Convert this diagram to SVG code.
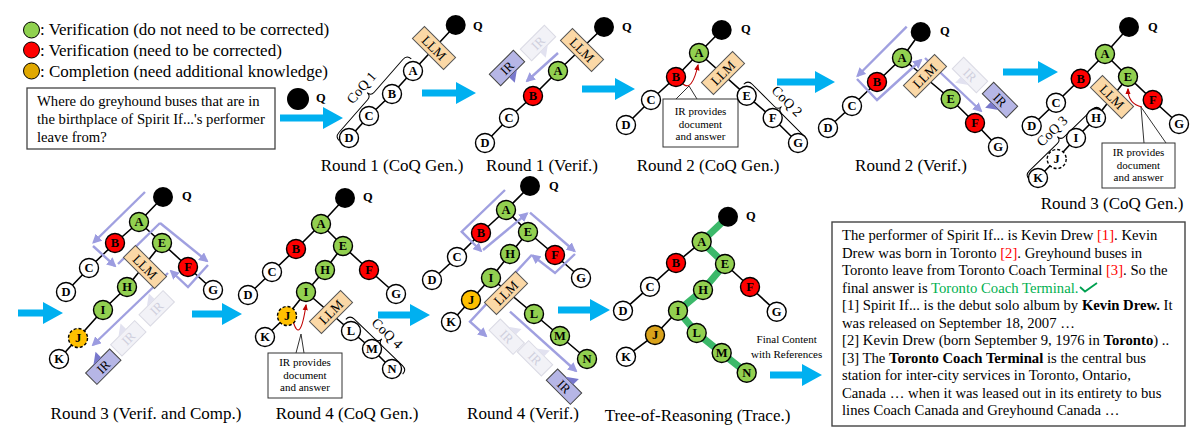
<svg xmlns="http://www.w3.org/2000/svg" xmlns:xlink="http://www.w3.org/1999/xlink" width="1200" height="443" viewBox="0 0 1200 443">
<style>
.e{stroke:#000;stroke-width:1.6;fill:none}
.nd circle{stroke:#000;stroke-width:1.4}
.nd text{font-family:"Liberation Serif",serif;font-weight:bold;font-size:12.5px;text-anchor:middle;fill:#000}
.w{fill:#fff}.g{fill:#92D050}.r{fill:#FF0000}.o{fill:#FFC000}.o2{fill:#D9A21B}
.dsh{stroke-dasharray:3 2}
.q circle{fill:#000}
.q text{font-family:"Liberation Serif",serif;font-weight:bold;font-size:12.5px;fill:#000}
.lab{font-family:"Liberation Serif",serif;font-size:17px;text-anchor:middle;fill:#000}
.leg{font-family:"Liberation Serif",serif;font-size:17px;fill:#000}
.qt{font-family:"Liberation Serif",serif;font-size:14.7px;fill:#000}
.co{font-family:"Liberation Serif",serif;font-size:11px;text-anchor:middle;fill:#000}
.cob{fill:#fff;stroke:#333;stroke-width:1}
.tail{fill:none;stroke:#333;stroke-width:1}
.red{fill:none;stroke:#C00000;stroke-width:1.1}
.lav{fill:none;stroke:#A0A0E0;stroke-width:2.4}
.br{fill:none;stroke:#000;stroke-width:1}
.brt{font-family:"Liberation Serif",serif;font-size:14px;text-anchor:middle;fill:#000}
.ba{fill:#00B0F0}
.tb{font-family:"Liberation Serif",serif;font-size:14.7px;fill:#000}
</style>
<defs>
<marker id="la" viewBox="0 0 10 10" refX="8" refY="5" markerWidth="4" markerHeight="4" orient="auto"><path d="M0,0 L10,5 L0,10 z" fill="#9C9CE0"/></marker>
<marker id="ra" viewBox="0 0 10 10" refX="8" refY="5" markerWidth="6" markerHeight="6" orient="auto"><path d="M0,1 L10,5 L0,9 z" fill="#C00000"/></marker>
<g id="llm"><rect x="-22" y="-8.5" width="44" height="17" fill="#FBD8A6" stroke="#555" stroke-width="1"/><text x="0" y="4.6" font-family="Liberation Serif,serif" font-size="13.5" text-anchor="middle" fill="#000">LLM</text></g>
<g id="ir"><rect x="-17" y="-8" width="34" height="16" fill="#B6B6E6" stroke="#444" stroke-width="1"/><text x="0" y="4.5" font-family="Liberation Serif,serif" font-size="13" text-anchor="middle" fill="#000">IR</text></g>
<g id="irf"><rect x="-17" y="-8" width="34" height="16" fill="#F2F2F7" stroke="#DADAE4" stroke-width="1"/><text x="0" y="4.5" font-family="Liberation Serif,serif" font-size="13" text-anchor="middle" fill="#CFCFDD">IR</text></g>
<polygon id="tri" points="-6,-8 5,-8 5,-16" fill="#7878CC"/>
<polygon id="trif" points="-6,-8 5,-8 5,-16" fill="#E2E2F0"/>
</defs>
<rect width="1200" height="443" fill="#fff"/>

<g id="legend">
<circle cx="31.5" cy="30" r="8" fill="#8FD14F" stroke="#000" stroke-width="1"/>
<text class="leg" x="40" y="35">: Verification (do not need to be corrected)</text>
<circle cx="31.5" cy="50" r="8" fill="#FF0000" stroke="#000" stroke-width="1"/>
<text class="leg" x="40" y="55.5">: Verification (need to be corrected)</text>
<circle cx="31.5" cy="71" r="8" fill="#E0A800" stroke="#000" stroke-width="1"/>
<text class="leg" x="40" y="76.5">: Completion (need additional knowledge)</text>
</g>

<g id="question">
<rect x="27" y="88" width="248" height="61" fill="#fff" stroke="#444" stroke-width="1.3"/>
<text class="qt" x="37" y="106">Where do greyhound buses that are in</text>
<text class="qt" x="37" y="124">the birthplace of Spirit If...'s performer</text>
<text class="qt" x="37" y="142">leave from?</text>
</g>
<g id="q0" class="q"><circle cx="298" cy="99" r="11"/><text x="316" y="102">Q</text></g>

<g id="connectors">
<polygon class="ba" points="280,114.5 323,114.5 323,107 343,118 323,129 323,121.5 280,121.5"/>
<polygon class="ba" points="422,89.5 456,89.5 456,82 476,93 456,104 456,96.5 422,96.5"/>
<polygon class="ba" points="582,85.5 615,85.5 615,78 635,89 615,100 615,92.5 582,92.5"/>
<polygon class="ba" points="777,78.5 815,78.5 815,71 835,82 815,93 815,85.5 777,85.5"/>
<polygon class="ba" points="1003,68.5 1038,68.5 1038,61 1058,72 1038,83 1038,75.5 1003,75.5"/>
<polygon class="ba" points="18,309.5 43,309.5 43,302 63,313 43,324 43,316.5 18,316.5"/>
<polygon class="ba" points="192,310.5 222,310.5 222,303 242,314 222,325 222,317.5 192,317.5"/>
<polygon class="ba" points="378,311.5 410,311.5 410,304 430,315 410,326 410,318.5 378,318.5"/>
<polygon class="ba" points="558,306.5 590,306.5 590,299 610,310 590,321 590,313.5 558,313.5"/>
<polygon class="ba" points="770,371.5 802,371.5 802,364 822,375 802,386 802,378.5 770,378.5"/>
<path class="e" d="M455.7,25 L413,71 L392,94 L369,116 L349,138"/>
<path class="e" d="M604,27 L558,71 L533,96 L509,118 L485,143"/>
<path class="e" d="M721.7,30 L699,53 L676,77 L651,100 L626,125 M699,53 L746.7,95.7 L772.7,118 L798,143"/>
<path class="e" d="M920.7,32 L902,58 L877,82 L852,106 L828,128 M902,58 L950.7,99 L975,123 L998,147"/>
<path class="e" d="M1129,27 L1105,54 L1080.7,78.7 L1056,102.7 L1031.7,126 M1105,54 L1128,76.7 L1152.7,100 L1179,124 M1128,76.7 L1096,118 L1076,138 L1056.7,159 L1038,178"/>
<path class="e" d="M163,197 L139,222 L115,243 L89,268 L66,292 M139,222 L162,243 L188,267 L213,290 M162,243 L127,287 L103,310 L78,338 L59,359"/>
<path class="e" d="M345,198 L321,224 L296,249 L272,272 L248,295 M321,224 L343,246 L369,270 L396,294 M343,246 L325,270 L306,292 L287,316 L265,337 M306,292 L351,331 L372,349 L392,369"/>
<path class="e" d="M530,186 L506,210 L481,233 L457,257 L432,280 M506,210 L528,232 L555,255 L581,278 M528,232 L510,254 L491,278 L471,300 L451,322 M491,278 L534,314 L560,336 L587,359"/>
<path class="e" d="M728,216.7 L701.7,241.7 L676,263 L650,286.7 L623,310.7 M701.7,241.7 L725,264 L750,287 L776.7,311.7 M725,264 L703,290 L678,310.7 L655,335 L626,356.7 M678,310.7 L696.7,333 L721.7,353 L746.7,372.7"/>
<path d="M728,216.7 L701.7,241.7 L725,264 L703,290 L678,310.7 L696.7,333 L721.7,353 L746.7,372.7" fill="none" stroke="#3CB96A" stroke-width="7" stroke-linejoin="round"/>
<path class="lav" marker-end="url(#la)" d="M558,53 L527,81"/>
<path class="lav" marker-end="url(#la)" d="M906.7,26.7 L857.5,76"/>
<path class="lav" marker-end="url(#la)" d="M857,79 L877,100 L921,60"/>
<path class="lav" marker-end="url(#la)" d="M925,58 L981,111"/>
<path class="lav" marker-end="url(#la)" d="M145,192 L93.5,242.5"/>
<path class="lav" marker-end="url(#la)" d="M93,246 L115,266"/>
<path class="lav" d="M118,264 L160,223"/>
<path class="lav" marker-end="url(#la)" d="M160,223 L207,261"/>
<path class="lav" marker-end="url(#la)" d="M208,265 L188,287 L171,271"/>
<path class="lav" marker-end="url(#la)" d="M168,273 L93,345"/>
<path class="lav" marker-end="url(#la)" d="M505,190 L461.7,231.7 L481,251"/>
<path class="lav" marker-end="url(#la)" d="M483,250 L527,213.5"/>
<path class="lav" marker-end="url(#la)" d="M530,212.7 L574.5,251"/>
<path class="lav" marker-end="url(#la)" d="M575,254 L555,273 L532.5,255.5"/>
<path class="lav" marker-end="url(#la)" d="M531.7,255 L470,321.7 L486,336"/>
<path class="lav" marker-end="url(#la)" d="M510,311.7 L576,371"/>
<path class="tail" d="M676,99 L689,86 L697,99"/>
<path class="red" marker-end="url(#ra)" d="M683,84 Q692,92 698,65"/>
<path class="tail" d="M1144,143 L1141,107 L1166,143"/>
<path class="red" marker-end="url(#ra)" d="M1142,107 Q1128,104 1128,89"/>
<path class="tail" d="M296,353 L301,334 L304,353"/>
<path class="red" marker-end="url(#ra)" d="M293,321 Q300,345 306,305"/>
</g>

<g id="r1g-llm"><use href="#llm" transform="translate(434,48) rotate(45)"/></g>
<g id="r1v-llm"><use href="#llm" transform="translate(582,50) rotate(45)"/></g>
<g id="r2g-llm"><use href="#llm" transform="translate(723,73) rotate(-45)"/></g>
<g id="r2v-llm"><use href="#llm" transform="translate(925,76) rotate(-45)"/></g>
<g id="r3g-llm"><use href="#llm" transform="translate(1112,97) rotate(45)"/></g>
<g id="r3v-llm"><use href="#llm" transform="translate(145,267) rotate(45)"/></g>
<g id="r4g-llm"><use href="#llm" transform="translate(331,312) rotate(-45)"/></g>
<g id="r4v-llm"><use href="#llm" transform="translate(506,293) rotate(-45)"/></g>

<g id="r1v-ir">
<use href="#irf" transform="translate(538,43) rotate(-45)"/><use href="#trif" transform="translate(538,43) rotate(135)"/>
<use href="#ir" transform="translate(507,68) rotate(-45)"/><use href="#tri" transform="translate(507,68) rotate(135)"/>
</g>
<g id="r2v-ir">
<use href="#irf" transform="translate(970,75) rotate(45)"/><use href="#trif" transform="translate(970,75) rotate(225)"/>
<use href="#ir" transform="translate(1000,100) rotate(45)"/><use href="#tri" transform="translate(1000,100) rotate(225)"/>
</g>
<g id="r3v-ir">
<use href="#irf" transform="translate(156.7,308.3) rotate(-45)"/><use href="#trif" transform="translate(156.7,308.3) rotate(-45)"/>
<use href="#irf" transform="translate(128.3,338.3) rotate(-45)"/><use href="#trif" transform="translate(128.3,338.3) rotate(-45)"/>
<use href="#ir" transform="translate(103.3,366.7) rotate(-45)"/><use href="#tri" transform="translate(103.3,366.7) rotate(-45)"/>
</g>
<g id="r4v-ir">
<use href="#irf" transform="translate(506.7,336.7) rotate(45)"/><use href="#trif" transform="translate(506.7,336.7) rotate(45)"/>
<use href="#irf" transform="translate(535,358.3) rotate(45)"/><use href="#trif" transform="translate(535,358.3) rotate(45)"/>
<use href="#ir" transform="translate(564,386.7) rotate(45)"/><use href="#tri" transform="translate(564,386.7) rotate(45)"/>
</g>

<g id="coq1"><g transform="translate(335,137) rotate(-48.8)"><path class="br" d="M0,6 Q0,0 6,0 L49.5,0 Q54.5,0 54.5,-5 Q54.5,0 59.5,0 L103,0 Q109,0 109,6"/><text class="brt" x="54.5" y="-8">CoQ 1</text></g></g>
<g id="coq2"><g transform="translate(748,80) rotate(45)"><path class="br" d="M0,6 Q0,0 6,0 L37.5,0 Q42.5,0 42.5,-5 Q42.5,0 47.5,0 L79,0 Q85,0 85,6"/><text class="brt" x="42.5" y="-8">CoQ 2</text></g></g>
<g id="coq3"><g transform="translate(1025,175) rotate(-44.2)"><path class="br" d="M0,6 Q0,0 6,0 L45,0 Q50,0 50,-5 Q50,0 55,0 L94,0 Q100,0 100,6"/><text class="brt" x="50" y="-8">CoQ 3</text></g></g>
<g id="coq4"><g transform="translate(350,315) rotate(44)"><path class="br" d="M0,6 Q0,0 6,0 L34.5,0 Q39.5,0 39.5,-5 Q39.5,0 44.5,0 L73,0 Q79,0 79,6"/><text class="brt" x="39.5" y="-8">CoQ 4</text></g></g>

<g id="callout-r2"><rect class="cob" x="663" y="99" width="75" height="48"/><text class="co" x="700.5" y="115">IR provides</text><text class="co" x="700.5" y="127.5">document</text><text class="co" x="700.5" y="140">and answer</text></g>
<g id="callout-r3"><rect class="cob" x="1102" y="143" width="73" height="45"/><text class="co" x="1138.5" y="156">IR provides</text><text class="co" x="1138.5" y="168.5">document</text><text class="co" x="1138.5" y="181">and answer</text></g>
<g id="callout-r4"><rect class="cob" x="268" y="353" width="74" height="45"/><text class="co" x="305" y="366">IR provides</text><text class="co" x="305" y="378.5">document</text><text class="co" x="305" y="391">and answer</text></g>

<g id="r1g-Q" class="q"><circle cx="455.7" cy="25" r="10"/><text x="473" y="30">Q</text></g>
<g id="r1g-A" class="nd"><circle class="w" cx="413" cy="71" r="9.5"/><text x="413" y="75.3">A</text></g>
<g id="r1g-B" class="nd"><circle class="w" cx="392" cy="94" r="9.5"/><text x="392" y="98.3">B</text></g>
<g id="r1g-C" class="nd"><circle class="w" cx="369" cy="116" r="9.5"/><text x="369" y="120.3">C</text></g>
<g id="r1g-D" class="nd"><circle class="w" cx="349" cy="138" r="9.5"/><text x="349" y="142.3">D</text></g>

<g id="r1v-Q" class="q"><circle cx="604" cy="27" r="10"/><text x="622" y="31">Q</text></g>
<g id="r1v-A" class="nd"><circle class="g" cx="558" cy="71" r="9.5"/><text x="558" y="75.3">A</text></g>
<g id="r1v-B" class="nd"><circle class="r" cx="533" cy="96" r="9.5"/><text x="533" y="100.3">B</text></g>
<g id="r1v-C" class="nd"><circle class="w" cx="509" cy="118" r="9.5"/><text x="509" y="122.3">C</text></g>
<g id="r1v-D" class="nd"><circle class="w" cx="485" cy="143" r="9.5"/><text x="485" y="147.3">D</text></g>

<g id="r2g-Q" class="q"><circle cx="721.7" cy="30" r="10"/><text x="741" y="33">Q</text></g>
<g id="r2g-A" class="nd"><circle class="g" cx="699" cy="53" r="9.5"/><text x="699" y="57.3">A</text></g>
<g id="r2g-B" class="nd"><circle class="r" cx="676" cy="77" r="9.5"/><text x="676" y="81.3">B</text></g>
<g id="r2g-C" class="nd"><circle class="w" cx="651" cy="100" r="9.5"/><text x="651" y="104.3">C</text></g>
<g id="r2g-D" class="nd"><circle class="w" cx="626" cy="125" r="9.5"/><text x="626" y="129.3">D</text></g>
<g id="r2g-E" class="nd"><circle class="w" cx="746.7" cy="95.7" r="9.5"/><text x="746.7" y="100">E</text></g>
<g id="r2g-F" class="nd"><circle class="w" cx="772.7" cy="118" r="9.5"/><text x="772.7" y="122.3">F</text></g>
<g id="r2g-G" class="nd"><circle class="w" cx="798" cy="143" r="9.5"/><text x="798" y="147.3">G</text></g>

<g id="r2v-Q" class="q"><circle cx="920.7" cy="32" r="10"/><text x="940" y="35">Q</text></g>
<g id="r2v-A" class="nd"><circle class="g" cx="902" cy="58" r="9.5"/><text x="902" y="62.3">A</text></g>
<g id="r2v-B" class="nd"><circle class="r" cx="877" cy="82" r="9.5"/><text x="877" y="86.3">B</text></g>
<g id="r2v-C" class="nd"><circle class="w" cx="852" cy="106" r="9.5"/><text x="852" y="110.3">C</text></g>
<g id="r2v-D" class="nd"><circle class="w" cx="828" cy="128" r="9.5"/><text x="828" y="132.3">D</text></g>
<g id="r2v-E" class="nd"><circle class="g" cx="950.7" cy="99" r="9.5"/><text x="950.7" y="103.3">E</text></g>
<g id="r2v-F" class="nd"><circle class="r" cx="975" cy="123" r="9.5"/><text x="975" y="127.3">F</text></g>
<g id="r2v-G" class="nd"><circle class="w" cx="998" cy="147" r="9.5"/><text x="998" y="151.3">G</text></g>

<g id="r3g-Q" class="q"><circle cx="1129" cy="27" r="10"/><text x="1148" y="31">Q</text></g>
<g id="r3g-A" class="nd"><circle class="g" cx="1105" cy="54" r="9.5"/><text x="1105" y="58.3">A</text></g>
<g id="r3g-B" class="nd"><circle class="r" cx="1080.7" cy="78.7" r="9.5"/><text x="1080.7" y="83">B</text></g>
<g id="r3g-C" class="nd"><circle class="w" cx="1056" cy="102.7" r="9.5"/><text x="1056" y="107">C</text></g>
<g id="r3g-D" class="nd"><circle class="w" cx="1031.7" cy="126" r="9.5"/><text x="1031.7" y="130.3">D</text></g>
<g id="r3g-E" class="nd"><circle class="g" cx="1128" cy="76.7" r="9.5"/><text x="1128" y="81">E</text></g>
<g id="r3g-F" class="nd"><circle class="r" cx="1152.7" cy="100" r="9.5"/><text x="1152.7" y="104.3">F</text></g>
<g id="r3g-G" class="nd"><circle class="w" cx="1179" cy="124" r="9.5"/><text x="1179" y="128.3">G</text></g>
<g id="r3g-H" class="nd"><circle class="w" cx="1096" cy="118" r="9.5"/><text x="1096" y="122.3">H</text></g>
<g id="r3g-I" class="nd"><circle class="w" cx="1076" cy="138" r="9.5"/><text x="1076" y="142.3">I</text></g>
<g id="r3g-J" class="nd"><circle class="w dsh" cx="1056.7" cy="159" r="9.5"/><text x="1056.7" y="163.3">J</text></g>
<g id="r3g-K" class="nd"><circle class="w" cx="1038" cy="178" r="9.5"/><text x="1038" y="182.3">K</text></g>

<g id="r3v-Q" class="q"><circle cx="163" cy="197" r="10"/><text x="182" y="200">Q</text></g>
<g id="r3v-A" class="nd"><circle class="g" cx="139" cy="222" r="9.5"/><text x="139" y="226.3">A</text></g>
<g id="r3v-B" class="nd"><circle class="r" cx="115" cy="243" r="9.5"/><text x="115" y="247.3">B</text></g>
<g id="r3v-C" class="nd"><circle class="w" cx="89" cy="268" r="9.5"/><text x="89" y="272.3">C</text></g>
<g id="r3v-D" class="nd"><circle class="w" cx="66" cy="292" r="9.5"/><text x="66" y="296.3">D</text></g>
<g id="r3v-E" class="nd"><circle class="g" cx="162" cy="243" r="9.5"/><text x="162" y="247.3">E</text></g>
<g id="r3v-F" class="nd"><circle class="r" cx="188" cy="267" r="9.5"/><text x="188" y="271.3">F</text></g>
<g id="r3v-G" class="nd"><circle class="w" cx="213" cy="290" r="9.5"/><text x="213" y="294.3">G</text></g>
<g id="r3v-H" class="nd"><circle class="g" cx="127" cy="287" r="9.5"/><text x="127" y="291.3">H</text></g>
<g id="r3v-I" class="nd"><circle class="g" cx="103" cy="310" r="9.5"/><text x="103" y="314.3">I</text></g>
<g id="r3v-J" class="nd"><circle class="o dsh" cx="78" cy="338" r="9.5"/><text x="78" y="342.3">J</text></g>
<g id="r3v-K" class="nd"><circle class="w" cx="59" cy="359" r="9.5"/><text x="59" y="363.3">K</text></g>

<g id="r4g-Q" class="q"><circle cx="345" cy="198" r="10"/><text x="363" y="201">Q</text></g>
<g id="r4g-A" class="nd"><circle class="g" cx="321" cy="224" r="9.5"/><text x="321" y="228.3">A</text></g>
<g id="r4g-B" class="nd"><circle class="r" cx="296" cy="249" r="9.5"/><text x="296" y="253.3">B</text></g>
<g id="r4g-C" class="nd"><circle class="w" cx="272" cy="272" r="9.5"/><text x="272" y="276.3">C</text></g>
<g id="r4g-D" class="nd"><circle class="w" cx="248" cy="295" r="9.5"/><text x="248" y="299.3">D</text></g>
<g id="r4g-E" class="nd"><circle class="g" cx="343" cy="246" r="9.5"/><text x="343" y="250.3">E</text></g>
<g id="r4g-F" class="nd"><circle class="r" cx="369" cy="270" r="9.5"/><text x="369" y="274.3">F</text></g>
<g id="r4g-G" class="nd"><circle class="w" cx="396" cy="294" r="9.5"/><text x="396" y="298.3">G</text></g>
<g id="r4g-H" class="nd"><circle class="g" cx="325" cy="270" r="9.5"/><text x="325" y="274.3">H</text></g>
<g id="r4g-I" class="nd"><circle class="g" cx="306" cy="292" r="9.5"/><text x="306" y="296.3">I</text></g>
<g id="r4g-J" class="nd"><circle class="o dsh" cx="287" cy="316" r="9.5"/><text x="287" y="320.3">J</text></g>
<g id="r4g-K" class="nd"><circle class="w" cx="265" cy="337" r="9.5"/><text x="265" y="341.3">K</text></g>
<g id="r4g-L" class="nd"><circle class="w" cx="351" cy="331" r="9.5"/><text x="351" y="335.3">L</text></g>
<g id="r4g-M" class="nd"><circle class="w" cx="372" cy="349" r="9.5"/><text x="372" y="353.3">M</text></g>
<g id="r4g-N" class="nd"><circle class="w" cx="392" cy="369" r="9.5"/><text x="392" y="373.3">N</text></g>

<g id="r4v-Q" class="q"><circle cx="530" cy="186" r="10"/><text x="549" y="190">Q</text></g>
<g id="r4v-A" class="nd"><circle class="g" cx="506" cy="210" r="9.5"/><text x="506" y="214.3">A</text></g>
<g id="r4v-B" class="nd"><circle class="r" cx="481" cy="233" r="9.5"/><text x="481" y="237.3">B</text></g>
<g id="r4v-C" class="nd"><circle class="w" cx="457" cy="257" r="9.5"/><text x="457" y="261.3">C</text></g>
<g id="r4v-D" class="nd"><circle class="w" cx="432" cy="280" r="9.5"/><text x="432" y="284.3">D</text></g>
<g id="r4v-E" class="nd"><circle class="g" cx="528" cy="232" r="9.5"/><text x="528" y="236.3">E</text></g>
<g id="r4v-F" class="nd"><circle class="r" cx="555" cy="255" r="9.5"/><text x="555" y="259.3">F</text></g>
<g id="r4v-G" class="nd"><circle class="w" cx="581" cy="278" r="9.5"/><text x="581" y="282.3">G</text></g>
<g id="r4v-H" class="nd"><circle class="g" cx="510" cy="254" r="9.5"/><text x="510" y="258.3">H</text></g>
<g id="r4v-I" class="nd"><circle class="g" cx="491" cy="278" r="9.5"/><text x="491" y="282.3">I</text></g>
<g id="r4v-J" class="nd"><circle class="o" cx="471" cy="300" r="9.5"/><text x="471" y="304.3">J</text></g>
<g id="r4v-K" class="nd"><circle class="w" cx="451" cy="322" r="9.5"/><text x="451" y="326.3">K</text></g>
<g id="r4v-L" class="nd"><circle class="g" cx="534" cy="314" r="9.5"/><text x="534" y="318.3">L</text></g>
<g id="r4v-M" class="nd"><circle class="g" cx="560" cy="336" r="9.5"/><text x="560" y="340.3">M</text></g>
<g id="r4v-N" class="nd"><circle class="g" cx="587" cy="359" r="9.5"/><text x="587" y="363.3">N</text></g>

<g id="tor-Q" class="q"><circle cx="728" cy="216.7" r="10"/><text x="746" y="220">Q</text></g>
<g id="tor-A" class="nd"><circle class="g" cx="701.7" cy="241.7" r="9.5"/><text x="701.7" y="246">A</text></g>
<g id="tor-B" class="nd"><circle class="r" cx="676" cy="263" r="9.5"/><text x="676" y="267.3">B</text></g>
<g id="tor-C" class="nd"><circle class="w" cx="650" cy="286.7" r="9.5"/><text x="650" y="291">C</text></g>
<g id="tor-D" class="nd"><circle class="w" cx="623" cy="310.7" r="9.5"/><text x="623" y="315">D</text></g>
<g id="tor-E" class="nd"><circle class="g" cx="725" cy="264" r="9.5"/><text x="725" y="268.3">E</text></g>
<g id="tor-F" class="nd"><circle class="r" cx="750" cy="287" r="9.5"/><text x="750" y="291.3">F</text></g>
<g id="tor-G" class="nd"><circle class="w" cx="776.7" cy="311.7" r="9.5"/><text x="776.7" y="316">G</text></g>
<g id="tor-H" class="nd"><circle class="g" cx="703" cy="290" r="9.5"/><text x="703" y="294.3">H</text></g>
<g id="tor-I" class="nd"><circle class="g" cx="678" cy="310.7" r="9.5"/><text x="678" y="315">I</text></g>
<g id="tor-J" class="nd"><circle class="o2" cx="655" cy="335" r="9.5"/><text x="655" y="339.3">J</text></g>
<g id="tor-K" class="nd"><circle class="w" cx="626" cy="356.7" r="9.5"/><text x="626" y="361">K</text></g>
<g id="tor-L" class="nd"><circle class="g" cx="696.7" cy="333" r="9.5"/><text x="696.7" y="337.3">L</text></g>
<g id="tor-M" class="nd"><circle class="g" cx="721.7" cy="353" r="9.5"/><text x="721.7" y="357.3">M</text></g>
<g id="tor-N" class="nd"><circle class="g" cx="746.7" cy="372.7" r="9.5"/><text x="746.7" y="377">N</text></g>

<g id="final-label">
<text class="co" x="786.7" y="343" font-size="12">Final Content</text>
<text class="co" x="786.7" y="358" font-size="12">with References</text>
</g>

<g id="labels">
<text class="lab" x="392" y="171">Round 1 (CoQ Gen.)</text>
<text class="lab" x="542" y="171">Round 1 (Verif.)</text>
<text class="lab" x="708" y="171">Round 2 (CoQ Gen.)</text>
<text class="lab" x="911" y="171">Round 2 (Verif.)</text>
<text class="lab" x="1112" y="209">Round 3 (CoQ Gen.)</text>
<text class="lab" x="146" y="419">Round 3 (Verif. and Comp.)</text>
<text class="lab" x="347" y="419">Round 4 (CoQ Gen.)</text>
<text class="lab" x="523" y="419">Round 4 (Verif.)</text>
<text class="lab" x="697.5" y="421">Tree-of-Reasoning (Trace.)</text>
</g>

<g id="answer-box">
<rect x="832" y="222" width="353" height="204" fill="#fff" stroke="#444" stroke-width="1.4"/>
<text class="tb" x="842" y="240">The performer of Spirit If... is Kevin Drew <tspan fill="#FF0000">[1]</tspan>. Kevin</text>
<text class="tb" x="842" y="257.5">Drew was born in Toronto <tspan fill="#FF0000">[2]</tspan>. Greyhound buses in</text>
<text class="tb" x="842" y="275">Toronto leave from Toronto Coach Terminal <tspan fill="#FF0000">[3]</tspan>. So the</text>
<text class="tb" x="842" y="292.5">final answer is <tspan fill="#00B050">Toronto Coach Terminal.</tspan></text>
<path d="M1080,287 L1085,291.5 L1097,283" fill="none" stroke="#00A050" stroke-width="1.8"/>
<text class="tb" x="842" y="310">[1] Spirit If... is the debut solo album by <tspan font-weight="bold">Kevin Drew.</tspan> It</text>
<text class="tb" x="842" y="327.5">was released on September 18, 2007 …</text>
<text class="tb" x="842" y="345">[2] Kevin Drew (born September 9, 1976 in <tspan font-weight="bold">Toronto</tspan>) ..</text>
<text class="tb" x="842" y="362.5">[3] The <tspan font-weight="bold">Toronto Coach Terminal</tspan> is the central bus</text>
<text class="tb" x="842" y="380">station for inter-city services in Toronto, Ontario,</text>
<text class="tb" x="842" y="397.5">Canada … when it was leased out in its entirety to bus</text>
<text class="tb" x="842" y="415">lines Coach Canada and Greyhound Canada …</text>
</g>
</svg>
